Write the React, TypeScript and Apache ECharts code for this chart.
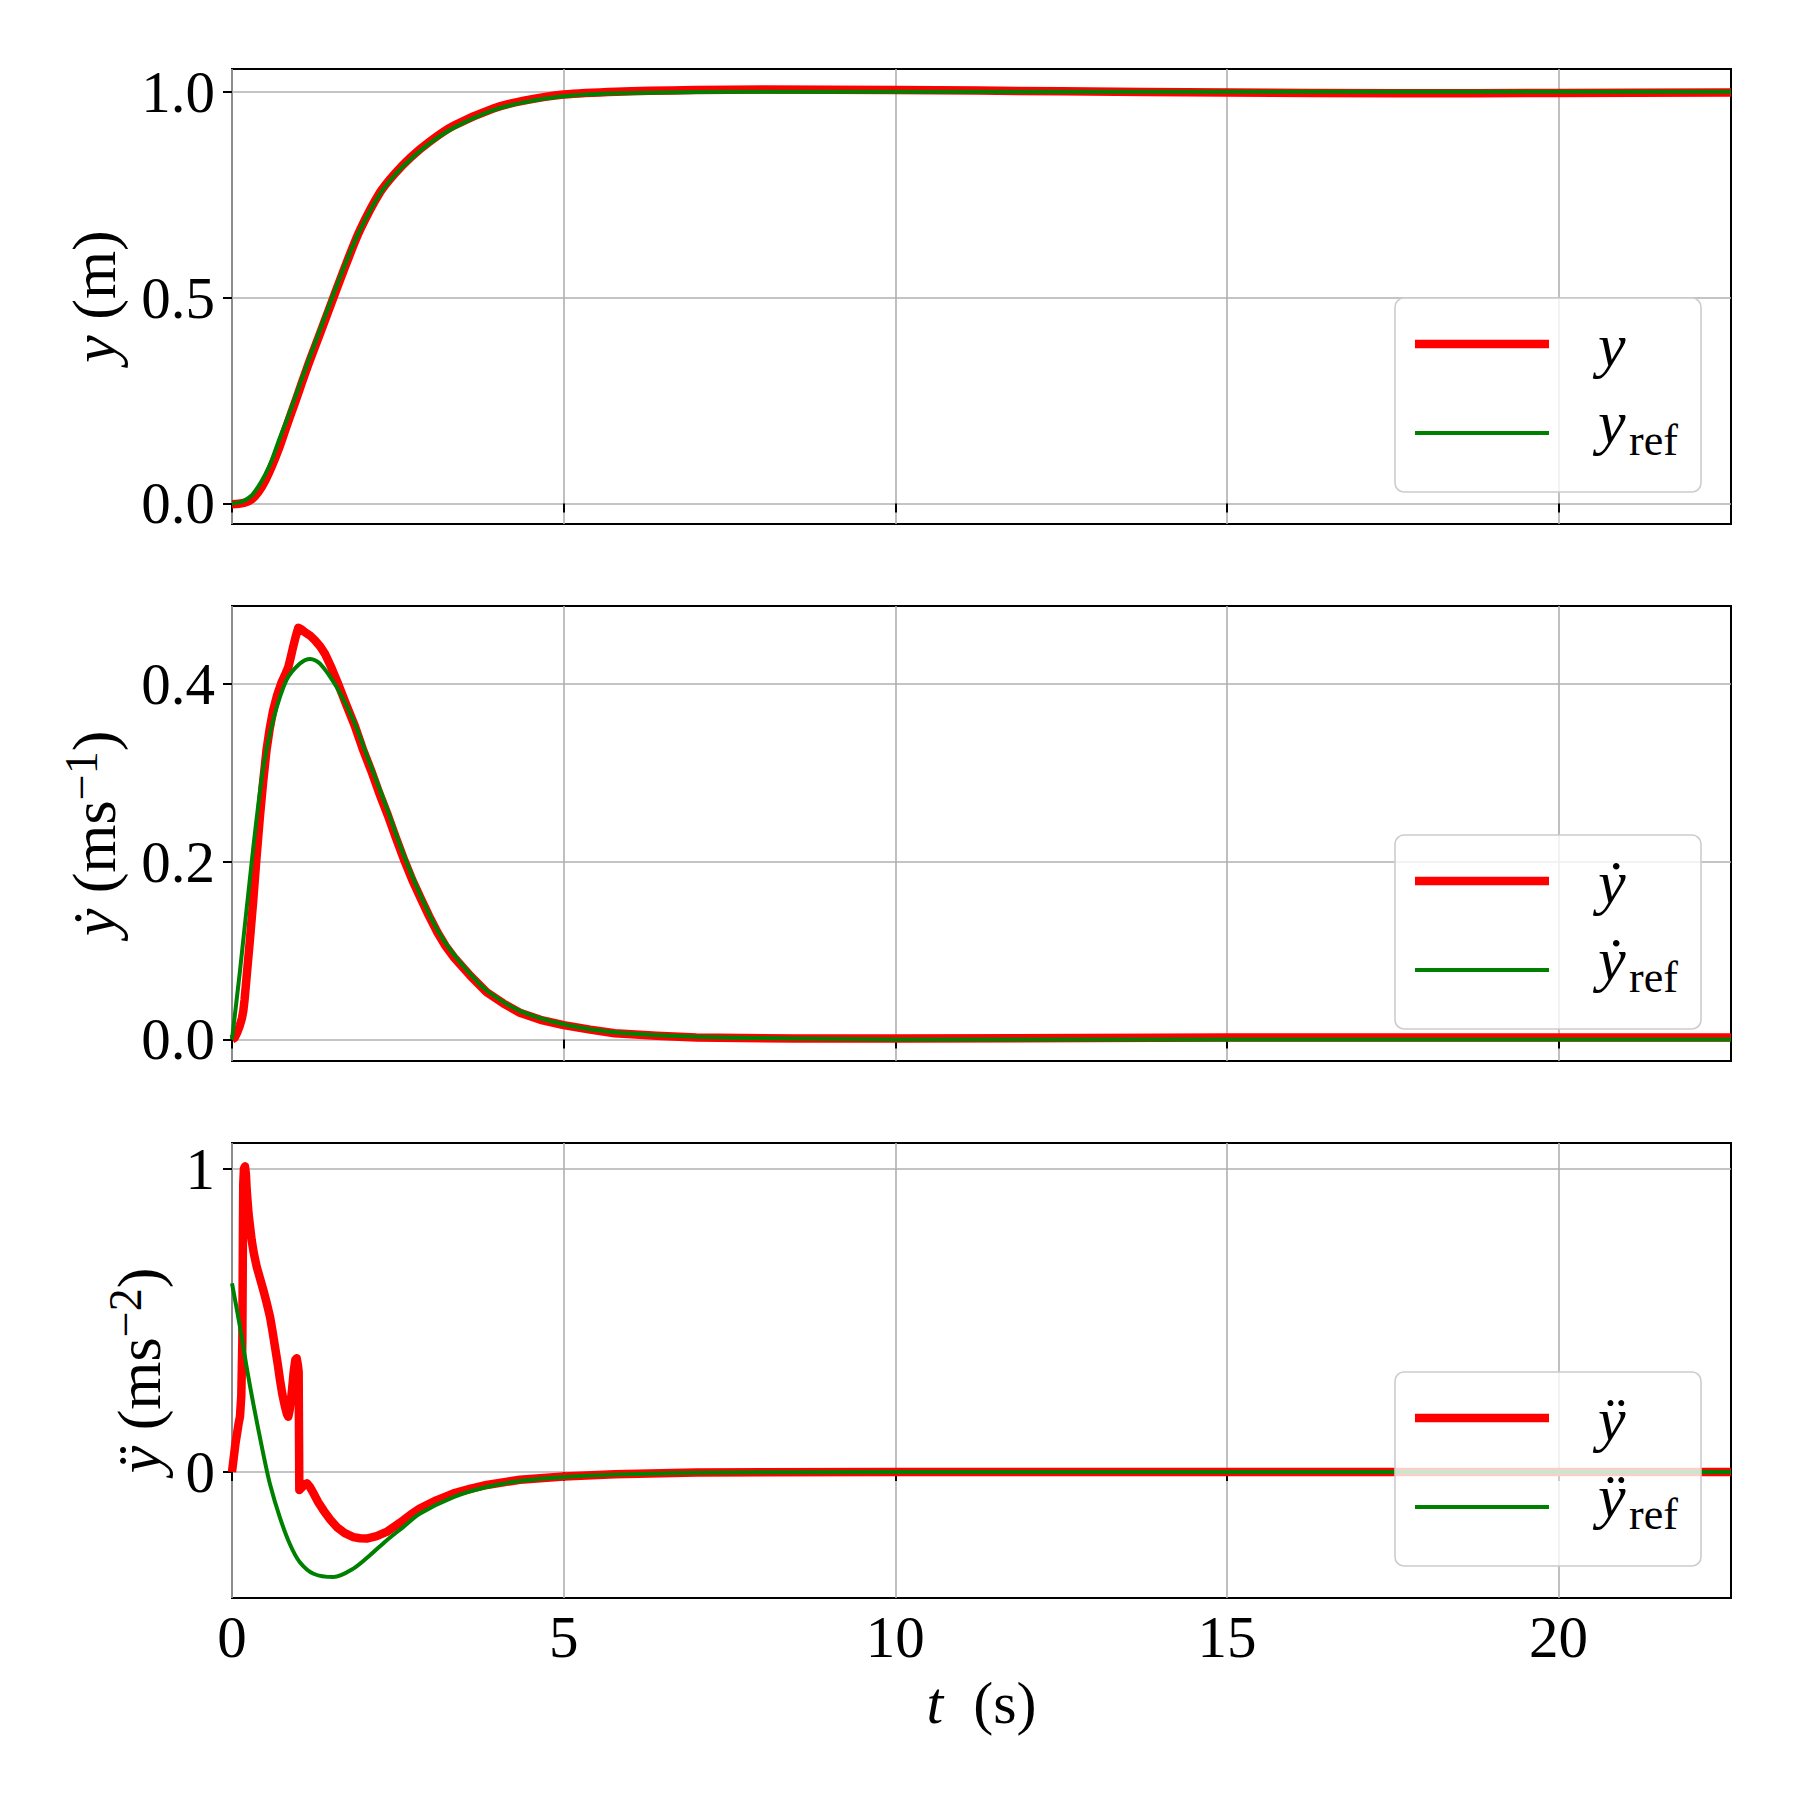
import React, { useEffect, useRef } from "react";
import * as echarts from "echarts";

// ---- time axis ----
const T_MAX = 22.6;
const timeTicks = [0, 5, 10, 15, 20];

// ---- position y (m) ----
const tPos = [0, 0.1, 0.2, 0.3, 0.4, 0.5, 0.6, 0.7, 0.82, 0.95, 1.13, 1.33, 1.53, 1.73, 1.93, 2.23, 2.45, 2.69, 3.0, 3.34, 3.94, 4.4, 5.0, 5.8, 7.0, 8.0, 10, 12.5, 15, 17.5, 20, 22.6];
const pos = [-0.002, -0.001, 0.002, 0.01, 0.028, 0.055, 0.09, 0.13, 0.186, 0.245, 0.328, 0.414, 0.5, 0.585, 0.664, 0.755, 0.8, 0.84, 0.881, 0.917, 0.959, 0.978, 0.993, 1.0, 1.004, 1.005, 1.004, 1.001, 0.998, 0.996, 0.997, 0.998];
const tPosRef = [0, 0.15, 0.3, 0.4, 0.5, 0.6, 0.7, 0.82, 0.95, 1.13, 1.33, 1.53, 1.73, 1.93, 2.23, 2.45, 2.69, 3.0, 3.34, 3.94, 4.4, 5.0, 5.8, 7.0, 8.0, 10, 12.5, 15, 17.5, 20, 22.6];
const posRef = [0, 0.004, 0.02, 0.042, 0.07, 0.105, 0.15, 0.2, 0.257, 0.337, 0.423, 0.508, 0.59, 0.664, 0.752, 0.797, 0.836, 0.877, 0.912, 0.955, 0.974, 0.989, 0.996, 0.999, 1.0, 1.0, 1.0, 1.0, 1.0, 1.0, 1.0];

// ---- velocity ẏ (m/s) ----
const tVel = [0, 0.04, 0.08, 0.12, 0.15, 0.17, 0.19, 0.22, 0.27, 0.32, 0.37, 0.42, 0.47, 0.52, 0.57, 0.62, 0.68, 0.75, 0.8, 0.85, 0.88, 0.92, 0.96, 1.0, 1.05, 1.1, 1.18, 1.25, 1.33, 1.4, 1.5, 1.6, 1.72, 1.85, 1.97, 2.1, 2.22, 2.35, 2.47, 2.6, 2.72, 2.85, 2.97, 3.1, 3.22, 3.35, 3.6, 3.84, 4.1, 4.34, 4.65, 5.0, 5.4, 5.77, 6.4, 7.0, 8.5, 10, 15, 22.6];
const vel = [0, 0.002, 0.008, 0.016, 0.024, 0.032, 0.045, 0.07, 0.112, 0.156, 0.205, 0.25, 0.29, 0.325, 0.35, 0.37, 0.387, 0.402, 0.41, 0.419, 0.428, 0.441, 0.453, 0.463, 0.461, 0.458, 0.454, 0.449, 0.442, 0.434, 0.418, 0.4, 0.377, 0.353, 0.327, 0.302, 0.277, 0.252, 0.227, 0.201, 0.179, 0.158, 0.139, 0.12, 0.105, 0.092, 0.071, 0.053, 0.04, 0.03, 0.022, 0.016, 0.011, 0.007, 0.004, 0.002, 0.001, 0.001, 0.002, 0.002];
const tVelRef = [0, 0.12, 0.32, 0.47, 0.62, 0.82, 1.02, 1.18, 1.33, 1.58, 1.83, 2.08, 2.33, 2.58, 2.83, 3.09, 3.34, 3.6, 3.84, 4.34, 5.0, 5.77, 7.0, 8.5, 10, 15, 22.6];
const velRef = [0, 0.077, 0.215, 0.305, 0.359, 0.404, 0.4225, 0.428, 0.4225, 0.396, 0.359, 0.31, 0.261, 0.209, 0.164, 0.124, 0.096, 0.073, 0.055, 0.032, 0.017, 0.008, 0.003, 0.001, 0.0, 0.0, 0.0];

// ---- acceleration ÿ (m/s²) ----
const tAcc = [0, 0.05, 0.1, 0.12, 0.14, 0.156, 0.165, 0.17, 0.18, 0.196, 0.21, 0.221, 0.25, 0.296, 0.33, 0.372, 0.42, 0.472, 0.52, 0.573, 0.61, 0.648, 0.69, 0.724, 0.76, 0.799, 0.83, 0.849, 0.87, 0.9, 0.93, 0.955, 0.975, 0.995, 1.005, 1.015, 1.05, 1.09, 1.13, 1.17, 1.23, 1.3, 1.38, 1.48, 1.58, 1.7, 1.83, 1.93, 2.03, 2.18, 2.33, 2.45, 2.58, 2.7, 2.83, 3.08, 3.34, 3.6, 3.84, 4.34, 5.0, 5.77, 7.0, 10, 22.6];
const acc = [0, 0.09, 0.16, 0.182, 0.25, 0.435, 0.8, 0.95, 1.0, 1.008, 0.98, 0.931, 0.85, 0.765, 0.72, 0.677, 0.64, 0.6, 0.56, 0.512, 0.465, 0.413, 0.355, 0.303, 0.255, 0.215, 0.19, 0.182, 0.205, 0.259, 0.33, 0.37, 0.375, 0.35, 0.33, -0.06, -0.052, -0.042, -0.038, -0.048, -0.071, -0.1, -0.127, -0.157, -0.182, -0.202, -0.215, -0.219, -0.22, -0.212, -0.198, -0.18, -0.16, -0.14, -0.121, -0.094, -0.071, -0.055, -0.043, -0.026, -0.015, -0.008, -0.002, 0, 0];
const tAccRef = [0, 0.12, 0.22, 0.32, 0.47, 0.57, 0.72, 0.87, 1.02, 1.23, 1.53, 1.83, 2.08, 2.33, 2.58, 2.83, 3.34, 3.84, 4.34, 5.0, 5.77, 7.0, 10, 22.6];
const accRef = [0.622, 0.479, 0.347, 0.226, 0.061, -0.038, -0.149, -0.237, -0.297, -0.336, -0.347, -0.319, -0.275, -0.226, -0.182, -0.138, -0.083, -0.05, -0.03, -0.017, -0.009, -0.003, 0, 0];

// ---- axis settings ----
const posTicks = [0, 0.5, 1.0];
const velTicks = [0, 0.2, 0.4];
const accTicks = [0, 1];
const yRanges = [
  [-0.05, 1.055],
  [-0.0243, 0.4875],
  [-0.416, 1.085],
];

const FONT = '"Liberation Serif", "Times New Roman", "DejaVu Serif", serif';
const RED = "#ff0000";
const GREEN = "#008000";
const GRID_LEFT = 232;
const GRID_WIDTH = 1499;
const GRID_TOPS = [69, 606, 1143];
const GRID_HEIGHT = 455;
const TICK_FONT = 59;
const TITLE_FONT = 62;

const zip = (t: number[], v: number[]) => t.map((x, i) => [x, v[i]]);

const titleRich = {
  i: { fontFamily: FONT, fontStyle: "italic", fontSize: TITLE_FONT, lineHeight: 72, color: "#000" },
  sup: { fontFamily: FONT, fontSize: 46, lineHeight: 46, verticalAlign: "top", color: "#000" },
};

function makeLegend(top: number, sym: string) {
  return {
    type: "group",
    x: 1395,
    y: top + 229,
    z: 100,
    children: [
      {
        type: "rect",
        z: 100,
        shape: { x: 0, y: 0, width: 306, height: 194, r: 9 },
        style: { fill: "rgba(255,255,255,0.8)", stroke: "#cccccc", lineWidth: 1.6 },
      },
      {
        type: "line",
        z: 101,
        shape: { x1: 20, y1: 46, x2: 154, y2: 46 },
        style: { stroke: RED, lineWidth: 8.5 },
      },
      {
        type: "line",
        z: 101,
        shape: { x1: 20, y1: 135, x2: 154, y2: 135 },
        style: { stroke: GREEN, lineWidth: 4 },
      },
      {
        type: "text",
        z: 101,
        x: 203,
        y: 47,
        style: { text: sym, font: `italic 62px ${FONT}`, fill: "#000", verticalAlign: "middle", align: "left" },
      },
      {
        type: "text",
        z: 101,
        x: 203,
        y: 124,
        style: { text: sym, font: `italic 62px ${FONT}`, fill: "#000", verticalAlign: "middle", align: "left" },
      },
      {
        type: "text",
        z: 101,
        x: 234,
        y: 142,
        style: { text: "ref", font: `44px ${FONT}`, fill: "#000", verticalAlign: "middle", align: "left" },
      },
    ],
  };
}

function buildOption() {
  const grids = GRID_TOPS.map((top) => ({
    left: GRID_LEFT,
    top,
    width: GRID_WIDTH,
    height: GRID_HEIGHT,
    show: true,
    borderColor: "#000",
    borderWidth: 2,
    backgroundColor: "transparent",
    containLabel: false,
  }));

  const tickStyle = { length: 9, lineStyle: { color: "#000", width: 2 } };
  const gridLine = { show: true, lineStyle: { color: "#b0b0b0", width: 1.6 } };
  const labelBase = { fontFamily: FONT, fontSize: TICK_FONT, color: "#000" };

  const xAxes = [0, 1, 2].map((i) => ({
    gridIndex: i,
    type: "value",
    min: 0,
    max: T_MAX,
    axisLine: { show: false },
    axisTick: { show: true, customValues: timeTicks, ...tickStyle },
    axisLabel: { show: i === 2, customValues: timeTicks, margin: 9, ...labelBase },
    splitLine: gridLine,
    name: i === 2 ? "{i|t}  (s)" : "",
    nameLocation: "middle",
    nameGap: 64,
    nameTextStyle: { fontFamily: FONT, fontSize: TITLE_FONT - 2, color: "#000", lineHeight: 72, rich: { i: { ...titleRich.i, fontSize: TITLE_FONT - 2 } } },
  }));

  const yTicks = [posTicks, velTicks, accTicks];
  const yNames = ["{i|y} (m)", "{i|ẏ} (ms{sup|−1})", "{i|ÿ} (ms{sup|−2})"];
  const yGaps = [88, 89, 45];
  const yFmt = [
    (v: number) => v.toFixed(1),
    (v: number) => v.toFixed(1),
    (v: number) => v.toFixed(0),
  ];

  const yAxes = [0, 1, 2].map((i) => ({
    gridIndex: i,
    type: "value",
    min: yRanges[i][0],
    max: yRanges[i][1],
    axisLine: { show: false },
    axisTick: { show: true, customValues: yTicks[i], ...tickStyle },
    axisLabel: { customValues: yTicks[i], margin: 17, formatter: yFmt[i], ...labelBase },
    splitLine: gridLine,
    name: yNames[i],
    nameLocation: "middle",
    nameRotate: 90,
    nameGap: yGaps[i],
    nameTextStyle: { fontFamily: FONT, fontSize: TITLE_FONT, color: "#000", lineHeight: 72, rich: titleRich },
  }));

  const lineSeries = (name: string, data: number[][], idx: number, color: string, width: number, smooth: number) => ({
    type: "line",
    name,
    xAxisIndex: idx,
    yAxisIndex: idx,
    data,
    showSymbol: false,
    symbol: "none",
    smooth,
    clip: true,
    lineStyle: { color, width, join: "round", cap: "butt" },
    emphasis: { disabled: true },
  });

  return {
    animation: false,
    backgroundColor: "#ffffff",
    grid: grids,
    xAxis: xAxes,
    yAxis: yAxes,
    series: [
      lineSeries("y", zip(tPos, pos), 0, RED, 8.5, 0.3),
      lineSeries("y_ref", zip(tPosRef, posRef), 0, GREEN, 4, 0.3),
      lineSeries("ẏ", zip(tVel, vel), 1, RED, 8.5, 0),
      lineSeries("ẏ_ref", zip(tVelRef, velRef), 1, GREEN, 4, 0.3),
      lineSeries("ÿ", zip(tAcc, acc), 2, RED, 8.5, 0),
      lineSeries("ÿ_ref", zip(tAccRef, accRef), 2, GREEN, 4, 0.3),
    ],
    graphic: [makeLegend(GRID_TOPS[0], "y"), makeLegend(GRID_TOPS[1], "ẏ"), makeLegend(GRID_TOPS[2], "ÿ")],
  };
}

export default function App() {
  const ref = useRef<HTMLDivElement>(null);
  useEffect(() => {
    if (!ref.current) return;
    const chart = echarts.init(ref.current, null, { renderer: "svg" });
    chart.setOption(buildOption() as any);
    return () => chart.dispose();
  }, []);
  return (
    <div
      ref={ref}
      style={{ position: "absolute", left: 0, top: 0, width: 1800, height: 1800, background: "#fff" }}
    />
  );
}
